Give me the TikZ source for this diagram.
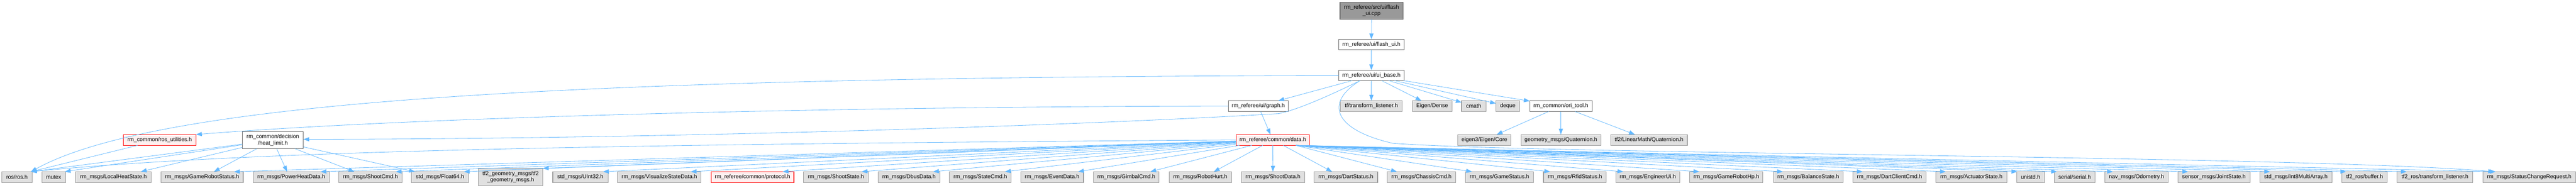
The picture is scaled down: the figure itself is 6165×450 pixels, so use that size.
\documentclass[tikz,border=0pt]{standalone}
\usepackage{fontspec}
\setmainfont{Liberation Sans}
\usetikzlibrary{arrows.meta}
\definecolor{edgec}{HTML}{63B8FF}
\definecolor{gfill}{HTML}{E0E0E0}
\definecolor{gdraw}{HTML}{999999}
\definecolor{wdraw}{HTML}{666666}
\definecolor{rfill}{HTML}{FFF0F0}
\definecolor{topfill}{HTML}{999999}
\newcommand{\bx}[7]{\node[#6, minimum width={(#3)-(#2)}, minimum height={(#5)-(#4)}] (#1) at ({((#2)+(#3))/2},{((#4)+(#5))/2}) {#7};}
\newcommand{\dl}[2]{\draw[arr] (data) -- ([xshift=#2pt]#1.north west);}
\newcommand{\dr}[2]{\draw[arr] ([xshift=55pt]data.south) -- ([xshift=#2pt]#1.north west);}
\newcommand{\hl}[2]{\draw[arr] (heat) -- ([xshift=#2pt]#1.north west);}
\begin{document}
\begin{tikzpicture}[x=1pt,y=-1pt, font=\fontsize{13.2}{15}\selectfont,
 box/.style={rectangle, inner sep=0pt, outer sep=0pt, line width=1.3pt, align=center, text=black},
 gbox/.style={box, draw=gdraw, fill=gfill},
 wbox/.style={box, draw=wdraw, fill=white},
 rbox/.style={box, draw=red, fill=rfill},
 tbox/.style={box, draw=wdraw, fill=topfill},
 arr/.style={draw=edgec, line width=1pt, -{Triangle[length=14pt,width=10pt,fill=edgec]}}]
\useasboundingbox (0,0) rectangle (6165,450);
% top part
\bx{cpp}{3207}{3358}{5}{46}{tbox}{rm\_referee/src/ui/flash\\\_ui.cpp}
\bx{fh}{3204}{3360}{94}{119}{wbox}{rm\_referee/ui/flash\_ui.h}
\bx{ub}{3204}{3360}{168}{193}{wbox}{rm\_referee/ui/ui\_base.h}
% row 2
\bx{graph}{2940}{3083}{241}{267}{wbox}{rm\_referee/ui/graph.h}
\bx{tfl}{3208}{3356}{241}{267}{gbox}{tf/transform\_listener.h}
\bx{dense}{3380}{3475}{241}{267}{gbox}{Eigen/Dense}
\bx{cmath}{3498}{3556}{241}{267}{gbox}{cmath}
\bx{deque}{3580}{3637}{241}{267}{gbox}{deque}
\bx{ori}{3661}{3810}{241}{267}{wbox}{rm\_common/ori\_tool.h}
% row 3
\bx{rosu}{295}{469}{322}{348}{rbox}{rm\_common/ros\_utilities.h}
\bx{heat}{580}{726}{315}{356}{wbox}{rm\_common/decision\\/heat\_limit.h}
\bx{data}{2958}{3134}{322}{348}{rbox}{rm\_referee/common/data.h}
\bx{core}{3489}{3616}{322}{348}{gbox}{eigen3/Eigen/Core}
\bx{gq}{3640}{3831}{322}{348}{gbox}{geometry\_msgs/Quaternion.h}
\bx{tq}{3855}{4038}{322}{348}{gbox}{tf2/LinearMath/Quaternion.h}
% bottom row
\bx{ros}{4}{77}{411}{437}{gbox}{ros/ros.h}
\bx{mutex}{100}{157}{411}{437}{gbox}{mutex}
\bx{lhs}{181}{362}{411}{437}{gbox}{rm\_msgs/LocalHeatState.h}
\bx{grs}{385}{582}{411}{437}{gbox}{rm\_msgs/GameRobotStatus.h}
\bx{phd}{606}{788}{411}{437}{gbox}{rm\_msgs/PowerHeatData.h}
\bx{scmd}{811}{962}{411}{437}{gbox}{rm\_msgs/ShootCmd.h}
\bx{f64}{985}{1121}{411}{437}{gbox}{std\_msgs/Float64.h}
\bx{tfg}{1145}{1299}{403}{444}{gbox}{tf2\_geometry\_msgs/tf2\\\_geometry\_msgs.h}
\bx{u32}{1323}{1455}{411}{437}{gbox}{std\_msgs/UInt32.h}
\bx{vsd}{1478}{1678}{411}{437}{gbox}{rm\_msgs/VisualizeStateData.h}
\bx{proto}{1702}{1900}{411}{437}{rbox}{rm\_referee/common/protocol.h}
\bx{sst}{1923}{2078}{411}{437}{gbox}{rm\_msgs/ShootState.h}
\bx{dbus}{2102}{2249}{411}{437}{gbox}{rm\_msgs/DbusData.h}
\bx{stc}{2272}{2420}{411}{437}{gbox}{rm\_msgs/StateCmd.h}
\bx{evd}{2443}{2593}{411}{437}{gbox}{rm\_msgs/EventData.h}
\bx{gcmd}{2617}{2774}{411}{437}{gbox}{rm\_msgs/GimbalCmd.h}
\bx{rh}{2798}{2947}{411}{437}{gbox}{rm\_msgs/RobotHurt.h}
\bx{sd}{2971}{3122}{411}{437}{gbox}{rm\_msgs/ShootData.h}
\bx{dst}{3145}{3297}{411}{437}{gbox}{rm\_msgs/DartStatus.h}
\bx{cc}{3320}{3484}{411}{437}{gbox}{rm\_msgs/ChassisCmd.h}
\bx{gst}{3507}{3670}{411}{437}{gbox}{rm\_msgs/GameStatus.h}
\bx{rf}{3694}{3844}{411}{437}{gbox}{rm\_msgs/RfidStatus.h}
\bx{eui}{3867}{4020}{411}{437}{gbox}{rm\_msgs/EngineerUi.h}
\bx{hp}{4044}{4219}{411}{437}{gbox}{rm\_msgs/GameRobotHp.h}
\bx{bst}{4244}{4411}{411}{437}{gbox}{rm\_msgs/BalanceState.h}
\bx{dcc}{4435}{4609}{411}{437}{gbox}{rm\_msgs/DartClientCmd.h}
\bx{ast}{4633}{4803}{411}{437}{gbox}{rm\_msgs/ActuatorState.h}
\bx{uni}{4826}{4893}{411}{437}{gbox}{unistd.h}
\bx{ser}{4916}{5014}{411}{437}{gbox}{serial/serial.h}
\bx{odo}{5037}{5189}{411}{437}{gbox}{nav\_msgs/Odometry.h}
\bx{js}{5212}{5385}{411}{437}{gbox}{sensor\_msgs/JointState.h}
\bx{ieight}{5408}{5581}{411}{437}{gbox}{std\_msgs/Int8MultiArray.h}
\bx{buf}{5605}{5713}{411}{437}{gbox}{tf2\_ros/buffer.h}
\bx{tltwo}{5737}{5918}{411}{437}{gbox}{tf2\_ros/transform\_listener.h}
\bx{scr}{5942}{6164}{411}{437}{gbox}{rm\_msgs/StatusChangeRequest.h}
% edges: top chain
\draw[arr] (cpp) -- (fh);
\draw[arr] (fh) -- (ub);
\draw[arr] (ub) -- (graph);
\draw[arr] (ub) -- (tfl);
\draw[arr] (ub) -- (dense);
\draw[arr] (ub) -- (cmath);
\draw[arr] (ub) -- (deque);
\draw[arr] (ub) -- (ori);
\draw[arr] (ub.west) .. controls (1500,185) and (400,230) .. ([xshift=-3pt]ros.north east);
\draw[arr] ([xshift=-27pt]ub.south) .. controls (3200,220) and (3110,262) .. (3060,272) .. controls (2500,305) and (1500,333) .. ([yshift=2pt]heat.east);
\draw[arr] ([xshift=-27pt]ub.south) .. controls (3170,245) and (3190,310) .. (3333,343) .. controls (3700,370) and (5500,372) .. ([xshift=27pt]scr.north west);
% graph
\draw[arr] (graph.west) .. controls (2000,255) and (1000,280) .. (rosu.north east);
\draw[arr] (graph) -- (data);
% ori_tool
\draw[arr] (ori) -- (core);
\draw[arr] (ori) -- (gq);
\draw[arr] (ori) -- (tq);
% ros_utilities
\draw[arr] (rosu) -- ([xshift=-3pt]ros.north east);
% heat_limit
\draw[arr] (heat) -- ([xshift=-3pt]ros.north east);
\draw[arr] (heat) -- ([xshift=-2pt]mutex.north east);
\hl{lhs}{156}
\hl{grs}{127}
\hl{phd}{81}
\hl{scmd}{37}
\hl{f64}{8}
% data.h
\draw[arr] (data.west) .. controls (1500,345) and (600,360) .. ([xshift=-3pt]ros.north east);
\dl{grs}{175}
\dl{phd}{161}
\dl{scmd}{136}
\dl{f64}{125}
\draw[arr] (data) -- (tfg.north east);
\dl{u32}{120}
\dl{vsd}{175}
\dl{proto}{171}
\dl{sst}{139}
\dl{dbus}{131}
\dl{stc}{133}
\dl{evd}{137}
\dl{gcmd}{136}
\dl{rh}{107}
\draw[arr] (data) -- (sd);
\draw[arr] ([xshift=25pt]data.south) -- ([xshift=43pt]dst.north west);
\dr{cc}{23}
\dr{gst}{16}
\dr{rf}{16}
\dr{eui}{18}
\dr{hp}{23}
\dr{bst}{23}
\dr{dcc}{23}
\dr{ast}{24}
\dr{uni}{2}
\dr{ser}{7}
\dr{odo}{20}
\dr{js}{25}
\dr{ieight}{25}
\dr{buf}{10}
\dr{tltwo}{23}
\dr{scr}{31}
\end{tikzpicture}
\end{document}
